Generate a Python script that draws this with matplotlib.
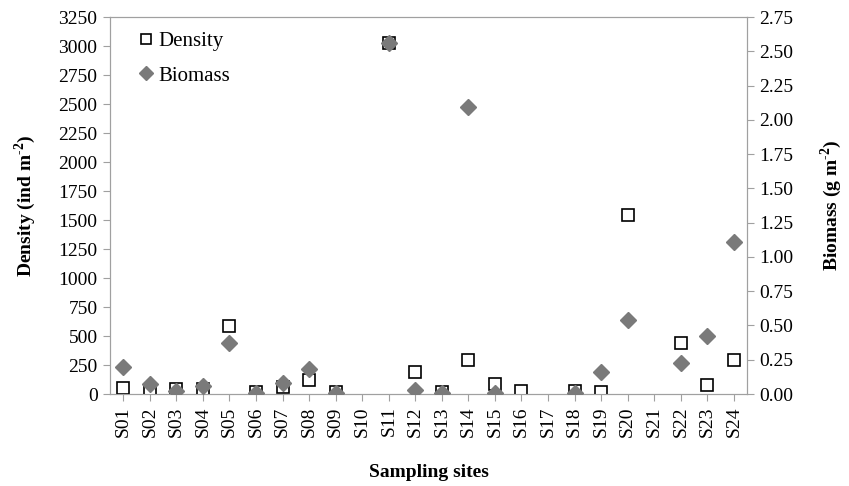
import matplotlib
matplotlib.use("Agg")
import matplotlib.pyplot as plt
import numpy as np

sites = ["S%02d" % i for i in range(1, 25)]
density = [50, 15, 45, 45, 590, 20, 60, 125, 15, np.nan, 3030, 190, 15, 293,
           86, 30, np.nan, 30, 15, 1545, np.nan, 440, 78, 293]
biomass = [0.20, 0.07, 0.02, 0.06, 0.37, 0.01, 0.08, 0.18, 0.01, np.nan, 2.56, 0.03,
           0.01, 2.09, 0.01, np.nan, np.nan, 0.005, 0.16, 0.54, np.nan, 0.225, 0.42, 1.11]
left_ticks = list(range(0, 3251, 250))
right_ticks = [i * 0.25 for i in range(12)]

plt.rcParams['font.family'] = ['Liberation Serif', 'DejaVu Serif']
plt.rcParams['mathtext.fontset'] = 'custom'
plt.rcParams['mathtext.rm'] = 'Liberation Serif'
plt.rcParams['mathtext.bf'] = 'Liberation Serif:bold'
fig = plt.figure(figsize=(8.49, 4.86), dpi=100)
ax = fig.add_axes([0.1296, 0.1893, 0.7504, 0.7757])
ax2 = ax.twinx()

x = np.arange(len(sites))
hd, = ax.plot(x, density, linestyle='none', marker='s', markersize=8.5,
              markerfacecolor='white', markeredgecolor='black', markeredgewidth=1.2,
              label='Density', zorder=3)
hb, = ax2.plot(x, biomass, linestyle='none', marker='D', markersize=8.5,
               markerfacecolor='#7a7a7a', markeredgecolor='#7a7a7a',
               label='Biomass', zorder=3)

ax.set_xlim(-0.5, len(sites) - 0.5)
ax.set_ylim(0, 3250)
ax2.set_ylim(0, 2.75)
ax.set_yticks(left_ticks)
ax2.set_yticks(right_ticks)
ax2.set_yticklabels(["%.2f" % v for v in right_ticks])
ax.set_xticks(x)
ax.set_xticklabels(sites, rotation=90)

for a in (ax, ax2):
    for s in a.spines.values():
        s.set_color('#a0a0a0')
    a.tick_params(axis='both', colors='#a0a0a0', labelcolor='black', labelsize=14,
                  direction='out', length=5, pad=4)

ax.set_ylabel('Density (ind m$^{\\mathbf{\u2010}\\mathbf{2}}$)', fontsize=14,
              fontweight='bold', labelpad=15)
ax2.set_ylabel('Biomass (g m$^{\\mathbf{\u2010}\\mathbf{2}}$)', fontsize=14,
               fontweight='bold', labelpad=18)
ax.set_xlabel('Sampling sites', fontsize=14, fontweight='bold', labelpad=19)

leg = ax.legend([hd, hb], ['Density', 'Biomass'], loc='upper left', frameon=False,
                fontsize=15, handletextpad=0.1, handlelength=1.0, labelspacing=0.7,
                markerscale=0.8, borderaxespad=0.0,
                bbox_to_anchor=(0.027, 0.983))

fig.savefig('out.png', dpi=100)
